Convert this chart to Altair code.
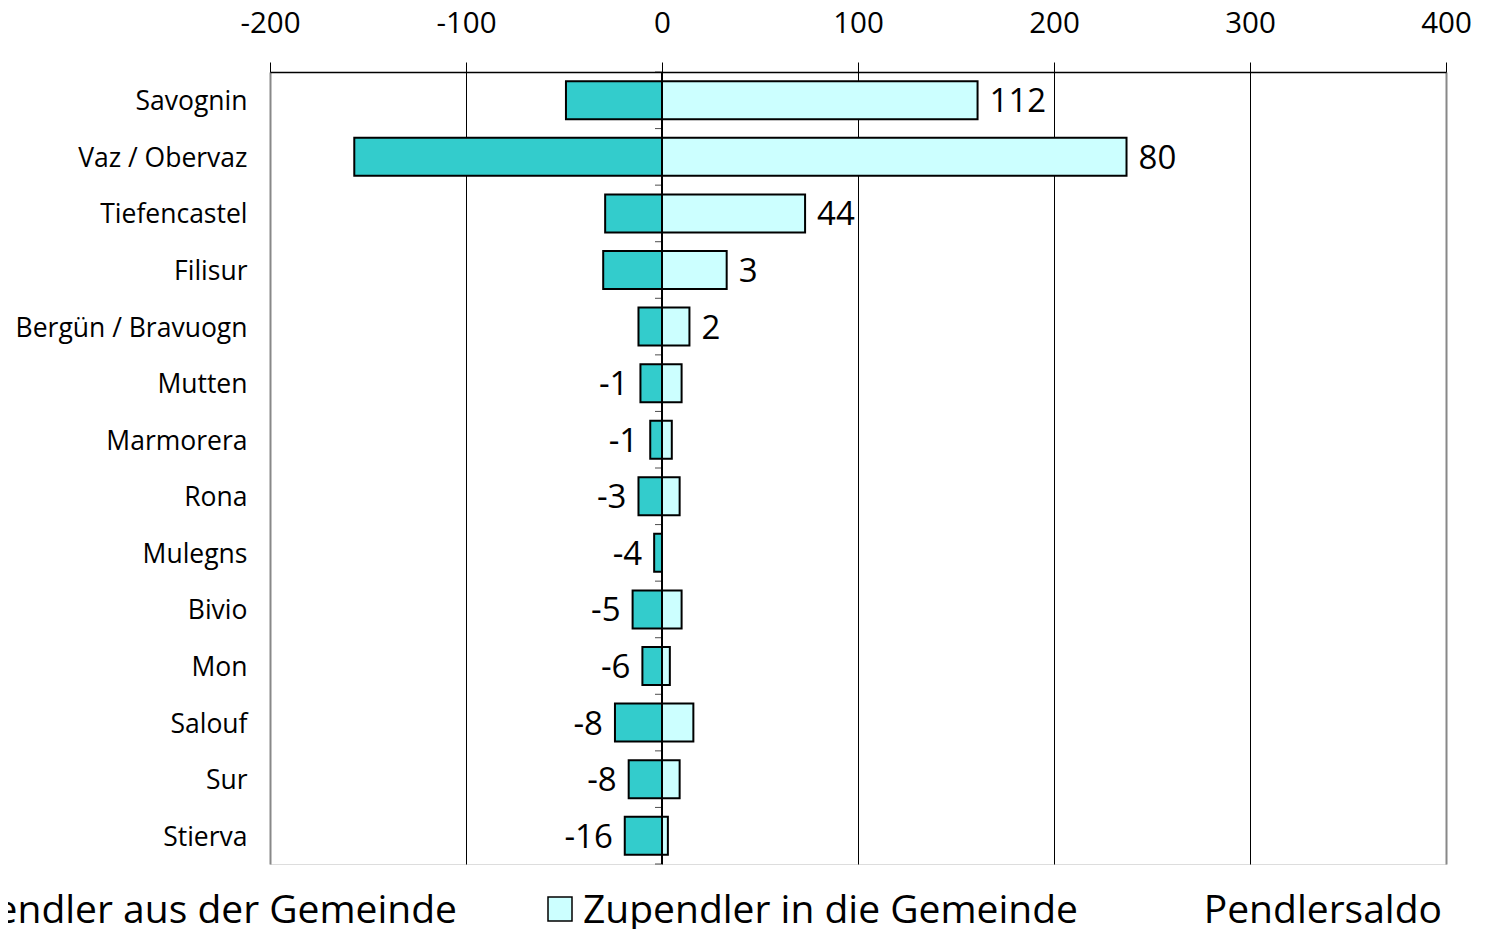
import altair as alt
import pandas as pd

gemeinden = ["Savognin", "Vaz / Obervaz", "Tiefencastel", "Filisur", "Bergün / Bravuogn",
             "Mutten", "Marmorera", "Rona", "Mulegns", "Bivio", "Mon", "Salouf", "Sur", "Stierva"]
wegpendler = [49, 157, 29, 30, 12, 11, 6, 12, 4, 15, 10, 24, 17, 19]
zupendler = [161, 237, 73, 33, 14, 10, 5, 9, 0, 10, 4, 16, 9, 3]
saldo = [112, 80, 44, 3, 2, -1, -1, -3, -4, -5, -6, -8, -8, -16]
x_ticks = [-200, -100, 0, 100, 200, 300, 400]
legend_labels = ["Wegpendler aus der Gemeinde", "Zupendler in die Gemeinde", "Pendlersaldo"]

FONT = "Open Sans"
TEAL = "#33CCCC"
CYAN = "#CCFFFF"
FRAME = "#888888"
W, H = 1176, 792
STEP = H / 14.0

df = pd.DataFrame({
    "gemeinde": gemeinden,
    "weg": [-w for w in wegpendler],
    "zu": zupendler,
    "saldo": saldo,
    "label": [str(s) for s in saldo],
    "zero": [0] * len(gemeinden),
})

yscale = alt.Scale(paddingInner=0.328, paddingOuter=0.164)
xscale = alt.Scale(domain=[-200, 400], nice=False, zero=False)

edge_test = "datum.value == -200 || datum.value == 400"
x_axis = alt.Axis(orient="top", values=x_ticks, grid=True,
                  gridColor={"condition": {"test": edge_test, "value": FRAME}, "value": "black"},
                  gridWidth={"condition": {"test": edge_test, "value": 2}, "value": 1},
                  gridOpacity=1, tickSize=10, tickColor="black", tickWidth=1,
                  domainColor="black", domainWidth=1.5, labelFontSize=29.5, labelFont=FONT,
                  labelColor="black", labelPadding=24, labelExpr="'' + datum.value",
                  labelFlush=False, labelOverlap=False, title=None)
y_axis = alt.Axis(orient="left", ticks=False, domain=False, labelFontSize=26.5,
                  labelFont=FONT, labelColor="black", labelPadding=23, labelLimit=0,
                  labelOffset=2, grid=False, title=None)


def X(field):
    return alt.X(field, scale=xscale, axis=x_axis)


Y = alt.Y("gemeinde:N", sort=gemeinden, scale=yscale, axis=y_axis)

base = alt.Chart(df)

weg_bars = base.mark_bar(color=TEAL, stroke="black", strokeWidth=2).encode(
    x=X("weg:Q"), x2="zero:Q", y=Y)

zu_bars = base.mark_bar(color=CYAN, stroke="black", strokeWidth=2).encode(
    x=X("zero:Q"), x2="zu:Q", y=Y)

zero_line = base.mark_rule(color="black", strokeWidth=1).encode(x=X("zero:Q"))

zero_ticks = base.mark_tick(orient="horizontal", size=7, thickness=1, color="black",
                            xOffset=-3.5, yOffset=-STEP / 2).encode(x=X("zero:Q"), y=Y)
zero_tick_end = base.transform_filter(
    alt.datum.gemeinde == gemeinden[-1]
).mark_tick(orient="horizontal", size=7, thickness=1, color="black",
            xOffset=-3.5, yOffset=STEP / 2).encode(x=X("zero:Q"), y=Y)

pos_labels = base.transform_filter("datum.saldo >= 0").mark_text(
    align="left", baseline="middle", dx=12, dy=2, fontSize=33, font=FONT, color="black"
).encode(x=X("zu:Q"), y=Y, text="label:N")

neg_labels = base.transform_filter("datum.saldo < 0").mark_text(
    align="right", baseline="middle", dx=-12, dy=2, fontSize=33, font=FONT, color="black"
).encode(x=X("weg:Q"), y=Y, text="label:N")

leg = alt.Chart(pd.DataFrame({"label": legend_labels}))
LEG_BASE = 851
LEG_FS = 39

leg_weg_text = leg.transform_filter(alt.datum.label == legend_labels[0]).mark_text(
    align="right", baseline="alphabetic", fontSize=LEG_FS, font=FONT, color="black"
).encode(x=alt.value(187), y=alt.value(LEG_BASE), text="label:N")
leg_zu_sym = leg.transform_filter(alt.datum.label == legend_labels[1]).mark_rect(
    color=CYAN, stroke="black", strokeWidth=1.5
).encode(x=alt.value(278), x2=alt.value(302), y=alt.value(LEG_BASE - 26), y2=alt.value(LEG_BASE - 2))
leg_zu_text = leg.transform_filter(alt.datum.label == legend_labels[1]).mark_text(
    align="left", baseline="alphabetic", fontSize=LEG_FS, font=FONT, color="black"
).encode(x=alt.value(313), y=alt.value(LEG_BASE), text="label:N")
leg_saldo_text = leg.transform_filter(alt.datum.label == legend_labels[2]).mark_text(
    align="right", baseline="alphabetic", fontSize=LEG_FS, font=FONT, color="black"
).encode(x=alt.value(1172), y=alt.value(LEG_BASE), text="label:N")

chart = alt.layer(
    weg_bars, zu_bars, zero_line, zero_ticks, zero_tick_end, pos_labels, neg_labels,
    leg_weg_text, leg_zu_sym, leg_zu_text, leg_saldo_text
).properties(
    width=W, height=H,
    autosize=alt.AutoSizeParams(type="none"),
    padding={"left": 262, "top": 64, "right": 34, "bottom": 65},
).configure_view(stroke=FRAME, strokeWidth=2).configure(background="white")

chart.save("out.html", embed_options={"renderer": "svg", "actions": False})
